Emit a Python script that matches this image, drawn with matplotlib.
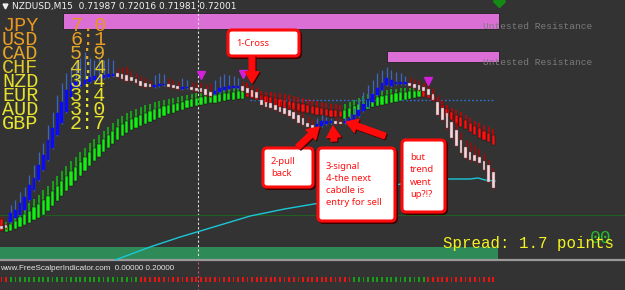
import matplotlib
matplotlib.use('Agg')
import matplotlib.pyplot as plt
from matplotlib.patches import Rectangle, FancyBboxPatch, FancyArrowPatch

# ---------------- data (price levels in points above the panel floor) ----------------
price_open = [34, 35, 38, 42, 45, 50, 60, 70, 80, 90,
              100, 112, 125, 137, 148, 163, 172, 174, 176, 178,
              180, 181, 182, 183, 184, 187, 186, 185, 183, 181,
              179, 177, 176, 173, 174, 175, 176, 175, 174, 171,
              172, 173, 172, 172, 171, 168, 166, 168, 170, 171,
              172, 172, 174, 172, 170, 168, 160, 158, 157, 155,
              153, 152, 150, 148, 145, 142, 137, 135, 133, 134,
              136, 137, 139, 138, 137, 138, 140, 144, 149, 153,
              158, 165, 170, 175, 174, 176, 176, 176, 177, 176,
              175, 173, 171, 166, 158, 152, 147, 138, 130, 120,
              113, 108, 105, 103, 99, 95, 88]
price_close = [31, 32, 47, 50, 57, 63, 75, 82, 95, 105,
               120, 132, 147, 158, 170, 177, 178, 178, 180, 183,
               184, 184, 185, 186, 186, 183, 181, 179, 179, 177,
               174, 173, 173, 175, 176, 176, 173, 172, 171, 173,
               173, 170, 169, 168, 165, 164, 169, 172, 173, 174,
               174, 174, 169, 167, 163, 162, 155, 153, 152, 150,
               148, 146, 144, 141, 137, 135, 133, 132, 136, 139,
               139, 139, 136, 136, 139, 141, 145, 150, 156, 161,
               166, 172, 177, 182, 180, 178, 178, 178, 174, 172,
               170, 169, 165, 160, 145, 140, 132, 122, 114, 107,
               102, 100, 99, 97, 90, 78, 72]
price_high = [36, 37, 55, 60, 68, 73, 85, 95, 108, 117,
              135, 148, 165, 177, 187, 193, 198, 202, 208, 202,
              200, 203, 200, 202, 200, 192, 193, 194, 190, 187,
              184, 182, 180, 185, 187, 186, 182, 180, 179, 182,
              180, 178, 177, 178, 176, 177, 180, 184, 186, 185,
              184, 182, 179, 177, 175, 173, 168, 165, 163, 161,
              159, 157, 155, 153, 151, 148, 144, 141, 142, 145,
              143, 142, 143, 142, 143, 147, 152, 160, 168, 175,
              180, 187, 190, 193, 190, 188, 187, 184, 183, 181,
              180, 178, 176, 172, 165, 160, 154, 146, 138, 128,
              120, 118, 115, 112, 107, 100, 92]
price_low = [30, 31, 37, 41, 44, 49, 59, 69, 79, 89,
             99, 111, 124, 136, 147, 162, 171, 173, 175, 177,
             179, 180, 181, 182, 183, 182, 180, 178, 178, 176,
             173, 172, 172, 172, 173, 174, 172, 171, 170, 170,
             171, 169, 168, 167, 164, 163, 165, 167, 169, 170,
             171, 171, 168, 166, 162, 161, 154, 152, 151, 149,
             147, 145, 143, 140, 136, 134, 132, 131, 132, 133,
             135, 136, 135, 135, 136, 137, 139, 143, 148, 152,
             157, 164, 169, 174, 173, 175, 175, 175, 173, 171,
             169, 168, 164, 159, 144, 139, 131, 121, 113, 106,
             101, 99, 98, 96, 89, 77, 71]

# smoothed (heiken-ashi style) indicator bars
ind_open = [41, 28, 29, 31, 33, 35, 37, 40, 42, 45,
            49, 54, 59, 64, 69, 74, 79, 84, 89, 94,
            99, 103, 108, 112, 116, 120, 124, 127, 130, 132,
            134, 136, 138, 140, 142, 144, 146, 147, 149, 150,
            152, 153, 154, 155, 156, 157, 157, 158, 159, 160,
            160, 161, 161, 173, 170, 167, 165, 164, 163, 162,
            161, 160, 159, 158, 157, 156, 155, 154, 153, 152,
            151, 150, 150, 149, 141, 143, 145, 147, 149, 151,
            153, 154, 155, 156, 157, 158, 159, 160, 161, 162,
            163, 172, 169, 165, 158, 155, 151, 148, 145, 143,
            140, 137, 134, 132, 129, 127, 125]
ind_close = [29, 34, 36, 39, 43, 46, 49, 53, 56, 60,
             64, 69, 74, 79, 84, 89, 93, 98, 103, 108,
             112, 116, 121, 125, 129, 133, 136, 139, 141, 143,
             145, 147, 149, 151, 152, 154, 155, 156, 157, 158,
             160, 161, 162, 163, 164, 164, 165, 166, 167, 167,
             168, 169, 169, 163, 162, 160, 157, 156, 155, 154,
             153, 152, 151, 150, 149, 148, 147, 146, 145, 145,
             144, 143, 143, 143, 150, 152, 154, 156, 158, 160,
             162, 163, 164, 165, 166, 167, 168, 168, 169, 169,
             170, 163, 162, 159, 150, 147, 143, 140, 136, 133,
             131, 128, 125, 122, 120, 118, 115]
ind_high = [43, 38, 41, 45, 49, 53, 57, 61, 65, 70,
            74, 79, 84, 89, 94, 99, 103, 108, 112, 117,
            121, 125, 129, 133, 137, 141, 144, 147, 149, 151,
            153, 155, 156, 158, 159, 160, 161, 162, 163, 164,
            165, 166, 167, 167, 168, 169, 169, 170, 171, 171,
            172, 172, 172, 177, 173, 171, 169, 168, 168, 167,
            167, 166, 165, 164, 163, 162, 161, 160, 159, 158,
            157, 156, 156, 155, 156, 158, 160, 162, 164, 166,
            167, 168, 169, 170, 171, 171, 172, 172, 172, 173,
            173, 176, 172, 168, 162, 159, 155, 152, 150, 148,
            145, 142, 139, 137, 135, 133, 131]

signal_colors = ("rrgggggggg" "gggggggggg" "gggggggggg" "rrrrrrrrrr" "rrrrrrrrrr"
                 "rrrrrrrrrr" "rrrrrrrrrr" "rrrrrrgggg" "gggggggggg" "ggrrrrrrrr" "rrrrrrr")

ma_idx = [24.5, 32, 38.5, 45, 53.6, 61, 68.6, 77.3, 85, 90.2, 96, 101, 102.7, 104.2, 106.4]
ma_val = [0, 13, 23, 32, 44, 51, 57, 66, 75, 80, 81, 81, 82, 80, 79]

arrow_idx = [43, 52, 92]
arrow_val = [185, 186, 179]

pivot_level = 160
pivot_start = 53.6
support_level = 45

currencies = ["JPY", "USD", "CAD", "CHF", "NZD", "EUR", "AUD", "GBP"]
strengths = ["7.0", "6:1", "5:9", "4:4", "3:4", "3:4", "3:0", "2:7"]
cur_colors = ["#e8961e", "#e89e22", "#e2a628", "#e0c82a", "#e6e02c", "#e6e02c", "#e6e22e", "#e8e430"]

header = "NZDUSD,M15  0.71987 0.72016 0.71981 0.72001"

# ---------------- figure ----------------
BG = "#333333"
fig = plt.figure(figsize=(6.25, 2.9), dpi=100)
fig.patch.set_facecolor(BG)

back = fig.add_axes([0, 0, 1, 1], zorder=0)
back.set_xlim(0, 625); back.set_ylim(290, 0); back.axis('off')
back.set_facecolor(BG)

# resistance zones
back.add_patch(Rectangle((63, 12.5), 436, 16.8, facecolor="#dc6fd6", edgecolor="#202020", lw=0.6))
back.add_patch(Rectangle((387, 50.7), 112, 11.5, facecolor="#dc6fd6", edgecolor="#202020", lw=0.6))
# green band and separator
back.add_patch(Rectangle((0, 247), 498, 11.5, facecolor="#2e8b57", edgecolor="none"))
back.plot([0, 625], [260, 260], color="#9a9a9a", lw=1.6)
# vertical dashed line
back.plot([198, 198], [0, 258], color="#e0e0e0", lw=0.8, ls=(0, (2, 2)))
back.plot([198, 198], [262, 290], color="#d05070", lw=0.8, ls=(0, (2, 2)))
back.plot([499], [0.5], marker="D", color="#138a13", ms=6, clip_on=False)

# main price panel
xl = (-1.5 / 4.64, (625 - 1.5) / 4.64)
ax = fig.add_axes([0, 30 / 290, 1, 260 / 290], zorder=1)
ax.set_xlim(*xl); ax.set_ylim(0, 260); ax.axis('off'); ax.patch.set_alpha(0)

ax.axhline(support_level, color="#1f5f1f", lw=0.8, zorder=1)
ax.plot([pivot_start, len(price_open) - 1], [pivot_level, pivot_level], color="#2f74d8",
        lw=1.0, ls=(0, (1.2, 1.6)), zorder=1)
ax.plot(ma_idx, ma_val, color="#19c8d8", lw=1.0, zorder=2, clip_on=False)

n = len(price_open)
idx = list(range(n))
# indicator bars
for i in idx:
    o, c, h = ind_open[i], ind_close[i], ind_high[i]
    bull = c >= o
    col = "#16ee16" if bull else "#ff1010"
    wick = "#10c010" if bull else "#d00000"
    lo, hi = min(o, c), max(o, c)
    ax.vlines(i, lo, h, color=wick, lw=1.1, zorder=3)
    ax.bar(i, hi - lo, bottom=lo, width=0.7, color=col, edgecolor="#111111", lw=0.35, zorder=4)

# price candles
for i in idx:
    o, c, h, l = price_open[i], price_close[i], price_high[i], price_low[i]
    bull = c >= o
    body = "#0a0aff" if bull else "#ffd3da"
    wick = "#3c66c4" if bull else "#b80000"
    lo, hi = min(o, c), max(o, c)
    ax.vlines(i, l, h, color=wick, lw=0.9, zorder=5)
    ax.bar(i, max(hi - lo, 1.2), bottom=lo, width=0.58, color=body,
           edgecolor="#555555" if not bull else body, lw=0.3, zorder=6)

ax.plot(arrow_idx, arrow_val, ls="none", marker="v", color="#d020d8", ms=5.5, zorder=7)

# bottom indicator panel
sub = fig.add_axes([0, 0, 1, 28 / 290], zorder=1)
sub.set_xlim(*xl); sub.set_ylim(0, 28); sub.axis('off'); sub.patch.set_alpha(0)
for i, s in enumerate(signal_colors):
    sub.bar(i, 5, bottom=8, width=0.38, color="#e81414" if s == "r" else "#14a014")

# front overlay: texts, boxes, arrows
fr = fig.add_axes([0, 0, 1, 1], zorder=3)
fr.set_xlim(0, 625); fr.set_ylim(290, 0); fr.axis('off'); fr.patch.set_alpha(0)

fr.plot([4.5], [6], marker="v", color="#f0f0f0", ms=3.5)
fr.text(12, 6.5, header, color="#f2f2f2", fontsize=6.5, family="DejaVu Sans", va="center")

for k, (cur, val, col) in enumerate(zip(currencies, strengths, cur_colors)):
    yb = 31 + 14 * k
    fr.text(2, yb, cur, color=col, fontsize=14.5, family="Liberation Mono", va="baseline")
    fr.text(70, yb, val, color=col, fontsize=14.5, family="Liberation Mono", va="baseline")

for yb in (29, 65):
    fr.text(483, yb, "Untested Resistance", color="#7c7c7c", fontsize=6.8,
            family="Liberation Mono", va="baseline")

fr.text(590, 243, "00", color="#2cb82c", fontsize=13, family="Liberation Mono", va="baseline")
fr.text(443, 248, "Spread: 1.7 points", color="#f4f422", fontsize=11.3,
        family="Liberation Mono", va="baseline")
fr.text(0, 268.5, "www.FreeScalperIndicator.com  0.00000 0.20000", color="#e6e6e6",
        fontsize=5.8, family="Liberation Sans", va="center")


def box(x, y, w, h, txt, tx):
    fr.add_patch(FancyBboxPatch((x + 1.5, y + 1.5), w, h, boxstyle="round,pad=0,rounding_size=4",
                                facecolor="#400000", edgecolor="#400000", lw=2.2))
    fr.add_patch(FancyBboxPatch((x, y), w, h, boxstyle="round,pad=0,rounding_size=4",
                                facecolor="white", edgecolor="#ff0a0a", lw=2.2))
    fr.text(tx, y + h / 2, txt, color="#ff1010", fontsize=6.8, family="Noto Sans",
            va="center", ha="left", linespacing=1.45)


box(228, 30, 71, 26, "1-Cross", 236)
box(263, 148, 50, 39, "2-pull\nback", 271)
box(318, 148, 77, 73, "3-signal\n4-the next\ncabdle is\nentry for sell", 326)
box(402, 140, 43, 72, "but\ntrend\nwent\nup?!?", 410)

for (a, b) in [((252, 56), (252, 83)), ((298, 147), (319, 127)),
               ((334, 141), (333, 126)), ((385, 136), (346, 122))]:
    fr.add_patch(FancyArrowPatch((a[0] + 1, a[1] + 1), (b[0] + 1, b[1] + 1),
                                 arrowstyle="simple,head_width=1.1,head_length=0.9,tail_width=0.45",
                                 mutation_scale=9, color="#3a0000", shrinkA=0, shrinkB=0))
    fr.add_patch(FancyArrowPatch(a, b,
                                 arrowstyle="simple,head_width=1.1,head_length=0.9,tail_width=0.45",
                                 mutation_scale=9, color="#ff0a0a", shrinkA=0, shrinkB=0))

fig.savefig("out.png", dpi=100, facecolor=BG)
